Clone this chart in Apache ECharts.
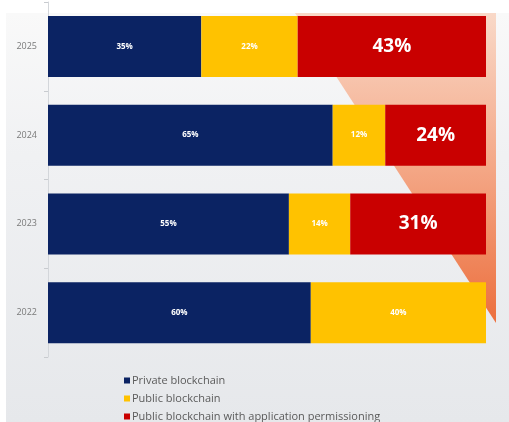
<!DOCTYPE html>
<html>
<head>
<meta charset="utf-8">
<script src="https://cdn.jsdelivr.net/npm/echarts@6/dist/echarts.min.js"></script>
<style>
  html, body { margin: 0; padding: 0; background: #ffffff; }
  #chart { width: 509px; height: 422px; }
</style>
</head>
<body>
<div id="chart"></div>
<script>
// Survey years, bottom to top
const years = ['2022', '2023', '2024', '2025'];

// Share of respondents per blockchain type (%)
const privateChain = [60, 55, 65, 35];
const publicChain = [40, 14, 12, 22];
const publicPermissioned = [null, 31, 24, 43];

const seriesNames = [
  'Private blockchain',
  'Public blockchain',
  'Public blockchain with application permissioning'
];

const colors = ['#0b2363', '#ffc200', '#c90000'];
const FONT = 'Open Sans, Lato, sans-serif';

const chart = echarts.init(document.getElementById('chart'), null, { renderer: 'canvas' });

function pctLabel(size) {
  return {
    show: true,
    position: 'inside',
    color: '#ffffff',
    fontFamily: FONT,
    fontWeight: 'bold',
    fontSize: size,
    formatter: p => (p.value == null ? '' : p.value + '%')
  };
}

chart.setOption({
  backgroundColor: '#ffffff',
  animation: false,
  graphic: [
    // light panel behind the plot
    {
      type: 'rect',
      z: -10,
      shape: { x: 6, y: 13, width: 503, height: 409 },
      style: {
        fill: {
          type: 'linear', x: 0, y: 0, x2: 0, y2: 1,
          colorStops: [
            { offset: 0, color: '#f9f9f9' },
            { offset: 0.35, color: '#f0f1f3' },
            { offset: 1, color: '#e6e8eb' }
          ]
        }
      }
    },
    // orange accent wedge on the right
    {
      type: 'polygon',
      z: -5,
      shape: { points: [[295, 13], [496, 13], [496, 323]] },
      style: {
        fill: {
          type: 'linear', x: 0, y: 0, x2: 0, y2: 1,
          colorStops: [
            { offset: 0, color: '#f9d9c8' },
            { offset: 0.5, color: '#f4a786' },
            { offset: 1, color: '#ec6f3e' }
          ]
        }
      }
    }
  ],
  grid: { left: 48, right: 23, top: 2, bottom: 65, containLabel: false },
  xAxis: {
    type: 'value',
    min: 0,
    max: 100,
    show: false
  },
  yAxis: {
    type: 'category',
    data: years,
    axisLine: { show: true, lineStyle: { color: '#d3d6da', width: 1 } },
    axisTick: { show: true, length: 4, lineStyle: { color: '#c8cbcf' } },
    axisLabel: { color: '#7a7a7a', fontSize: 9, fontFamily: FONT, margin: 11 },
    splitLine: { show: false }
  },
  legend: {
    orient: 'vertical',
    left: 124,
    top: 374,
    height: 80,
    padding: 0,
    itemWidth: 6,
    itemHeight: 6,
    itemGap: 5,
    icon: 'rect',
    selectedMode: false,
    textStyle: { color: '#5a5a5a', fontSize: 11, lineHeight: 13, fontFamily: FONT, padding: [0, 0, 0, -3] },
    data: seriesNames
  },
  series: [
    {
      name: seriesNames[0],
      type: 'bar',
      stack: 'share',
      barWidth: 61,
      clip: true,
      itemStyle: { color: colors[0] },
      label: pctLabel(8),
      data: privateChain
    },
    {
      name: seriesNames[1],
      type: 'bar',
      stack: 'share',
      barWidth: 61,
      clip: true,
      itemStyle: { color: colors[1] },
      label: pctLabel(8),
      data: publicChain
    },
    {
      name: seriesNames[2],
      type: 'bar',
      stack: 'share',
      barWidth: 61,
      clip: true,
      itemStyle: { color: colors[2] },
      label: pctLabel(19),
      data: publicPermissioned
    }
  ]
});
</script>
</body>
</html>
